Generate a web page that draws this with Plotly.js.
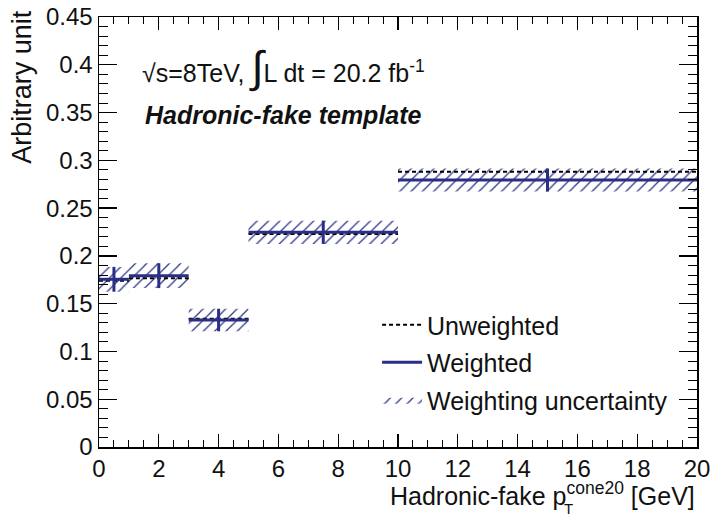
<!DOCTYPE html>
<html>
<head>
<meta charset="utf-8">
<script src="https://cdn.plot.ly/plotly-3.0.1.min.js"></script>
<style>html,body{margin:0;padding:0;background:#fff;}</style>
</head>
<body>
<div id="chart" style="width:712px;height:518px;"></div>
<script>
// ---- data ----
const binEdges = [0, 1, 3, 5, 10, 20];
const weighted = [0.1755, 0.1793, 0.1329, 0.2247, 0.2794];
const unweighted = [0.1740, 0.1765, 0.1343, 0.2229, 0.2881];
const uncertainty = [0.0130, 0.0130, 0.0118, 0.0122, 0.0120];
const seriesNames = ["Unweighted", "Weighted", "Weighting uncertainty"];

// ---- build traces from data ----
const NAVY = "#2a2f86";
function stepSegments(vals) {
  const x = [], y = [];
  vals.forEach((v, i) => { x.push(binEdges[i], binEdges[i + 1], null); y.push(v, v, null); });
  return {x, y};
}
function bandPolygons(vals, errs) {
  const x = [], y = [];
  vals.forEach((v, i) => {
    const lo = binEdges[i], hi = binEdges[i + 1];
    x.push(lo, hi, hi, lo, lo, null);
    y.push(v - errs[i], v - errs[i], v + errs[i], v + errs[i], v - errs[i], null);
  });
  return {x, y};
}
const centers = weighted.map((v, i) => (binEdges[i] + binEdges[i + 1]) / 2);

const band = bandPolygons(weighted, uncertainty);
const uw = stepSegments(unweighted);
const w = stepSegments(weighted);

const traces = [
  {
    type: "scatter", mode: "lines", x: band.x, y: band.y,
    fill: "toself", fillcolor: "rgba(0,0,0,0)",
    fillpattern: {shape: "/", fgcolor: NAVY, bgcolor: "rgba(0,0,0,0)", size: 8, solidity: 0.15},
    line: {width: 0, color: "rgba(0,0,0,0)"},
    name: seriesNames[2], legendrank: 3, legendgroup: "c", hoverinfo: "skip"
  },
  {
    type: "scatter", mode: "lines", x: uw.x, y: uw.y,
    line: {color: "#000", width: 2, dash: "4px,3px"},
    name: seriesNames[0], legendrank: 1, legendgroup: "a", connectgaps: false
  },
  {
    type: "scatter", mode: "lines", x: w.x, y: w.y,
    line: {color: NAVY, width: 3},
    name: seriesNames[1], legendrank: 2, legendgroup: "b", connectgaps: false
  },
  {
    type: "scatter", mode: "markers", x: centers, y: weighted,
    marker: {size: 1, color: NAVY, opacity: 0},
    error_y: {type: "data", array: uncertainty, visible: true, color: NAVY, thickness: 3, width: 0},
    showlegend: false, legendgroup: "b", hoverinfo: "skip"
  }
];

const FONT = "Liberation Sans, Arial, Helvetica, sans-serif";
const layout = {
  width: 712, height: 518,
  margin: {l: 99, r: 15, t: 17, b: 71, pad: 0},
  paper_bgcolor: "#fff", plot_bgcolor: "#fff",
  font: {family: FONT, size: 25, color: "#111"},
  showlegend: true,
  legend: {
    x: 0.465, y: 0.337, xanchor: "left", yanchor: "top",
    bgcolor: "rgba(0,0,0,0)", borderwidth: 0,
    font: {family: FONT, size: 25, color: "#111"},
    itemwidth: 40, traceorder: "grouped", tracegroupgap: 2
  },
  xaxis: {
    range: [0, 20], tick0: 0, dtick: 2,
    ticks: "inside", ticklen: 13, tickwidth: 1.3, tickcolor: "#000",
    minor: {dtick: 0.5, ticks: "inside", ticklen: 7, tickwidth: 1, tickcolor: "#000", showgrid: false},
    showline: true, linecolor: "#000", linewidth: 1.5, mirror: "allticks",
    showgrid: false, zeroline: false,
    tickfont: {family: FONT, size: 24, color: "#111"}
  },
  yaxis: {
    range: [0, 0.45], tick0: 0, dtick: 0.05,
    ticks: "inside", ticklen: 18, tickwidth: 1.3, tickcolor: "#000",
    minor: {dtick: 0.01, ticks: "inside", ticklen: 9, tickwidth: 1, tickcolor: "#000", showgrid: false},
    showline: true, linecolor: "#000", linewidth: 1.5, mirror: "allticks",
    showgrid: false, zeroline: false,
    tickfont: {family: FONT, size: 24, color: "#111"}
  },
  annotations: [
    {
      xref: "paper", yref: "paper", x: 1, y: -0.109, xanchor: "right", yanchor: "middle",
      text: "Hadronic-fake p<sup>cone20</sup> [GeV]", showarrow: false,
      font: {family: FONT, size: 25, color: "#111"}
    },
    {
      xref: "paper", yref: "paper", x: 0.785, y: -0.143, xanchor: "center", yanchor: "middle",
      text: "T", showarrow: false,
      font: {family: FONT, size: 15, color: "#111"}
    },
    {
      xref: "paper", yref: "paper", x: -0.129, y: 1.021, xanchor: "center", yanchor: "top",
      text: "Arbitrary unit", textangle: -90, showarrow: false,
      font: {family: FONT, size: 27, color: "#111"}
    },
    {
      xref: "paper", yref: "paper", x: 0.0686, y: 0.8837, xanchor: "left", yanchor: "middle",
      text: "\u221As=8TeV, <span style=\"font-size:44px\">\u222B</span>L dt = 20.2 fb<sup>-1</sup>", showarrow: false,
      font: {family: FONT, size: 25, color: "#111"}
    },
    {
      xref: "paper", yref: "paper", x: 0.0736, y: 0.772, xanchor: "left", yanchor: "middle",
      text: "<b><i>Hadronic-fake template</i></b>", showarrow: false,
      font: {family: FONT, size: 25, color: "#111"}
    }
  ]
};

Plotly.newPlot("chart", traces, layout, {displayModeBar: false, staticPlot: true});
</script>
</body>
</html>
